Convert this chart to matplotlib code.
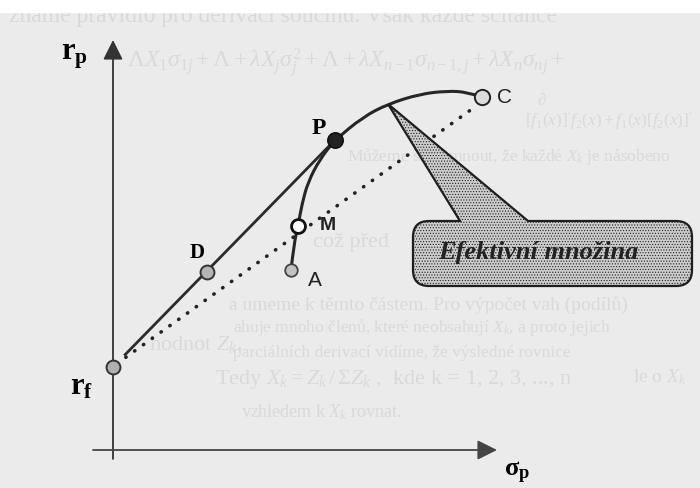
import matplotlib
matplotlib.use("Agg")
import matplotlib.pyplot as plt
from matplotlib.path import Path
from matplotlib.patches import PathPatch

plt.rcParams["mathtext.fontset"] = "custom"
plt.rcParams["mathtext.rm"] = "Liberation Serif"
plt.rcParams["mathtext.it"] = "Liberation Serif:italic"
plt.rcParams["mathtext.bf"] = "Liberation Serif:bold"
plt.rcParams["hatch.color"] = "#ababab"
plt.rcParams["hatch.linewidth"] = 0.5

SERIF = "Liberation Serif"
SANS = "Liberation Sans"

# portfolio points (sigma_p, r_p)
RF = (0.0, 2.08)
POINT_D = (2.35, 4.45)
POINT_P = (5.55, 7.75)
POINT_M = (4.625, 5.6)
POINT_A = (4.45, 4.5)
POINT_C = (9.225, 8.825)

# efficient frontier from A up to C
frontier_sigma = [4.45, 4.525, 4.625, 4.725, 4.875, 5.175, 5.55, 6.25, 6.875, 7.675, 8.35, 8.85, 9.225]
frontier_r = [4.5, 5.15, 5.6, 6.15, 6.7, 7.275, 7.75, 8.325, 8.65, 8.9, 8.975, 8.95, 8.825]

# capital market line rf -> P and the dotted line rf -> C
cml_sigma = [0.28, 5.55]
cml_r = [2.36, 7.75]
dot_sigma = [0.1, 8.975]
dot_r = [2.16, 8.525]

# callout box and pointer
box_left, box_right, box_top, box_bottom = 7.5, 14.475, 5.725, 4.1
box_round = 0.4
pointer_tip = (6.875, 8.65)
pointer_base = (8.675, 10.375)

# faded page text behind the figure: (sigma, r, text, size)
page_text = [
    (-2.6, 10.85, "zname pravidlo pro derivaci součinu. Však každé sčítance", 17),
    (0.35, 9.7, r"$\Lambda X_1\sigma_{1j} + \Lambda + \lambda X_j\sigma_j^2 + \Lambda + \lambda X_{n-1}\sigma_{n-1,j} + \lambda X_n\sigma_{nj} +$", 17),
    (10.6, 8.75, r"$\partial$", 12),
    (10.3, 8.25, r"$[f_1(x)]' f_2(x) + f_1(x)[f_2(x)]'$", 12.5),
    (5.85, 7.35, r"Můžeme si všimnout, že každé $X_k$ je násobeno", 12.5),
    (5.0, 5.2, "což před", 16),
    (2.9, 3.66, "a umeme k těmto částem. Pro výpočet vah (podílů)", 14),
    (3.0, 3.08, r"ahuje mnoho členů, které neobsahují $X_k$, a proto jejich", 12.5),
    (0.9, 2.65, r"hodnot $Z_k$.", 16),
    (3.0, 2.45, "parciálních derivací vidíme, že výsledné rovnice", 12.5),
    (2.55, 1.78, r"Tedy $X_k = Z_k\,/\,\Sigma Z_k$ ,  kde k = 1, 2, 3, ..., n", 16),
    (13.0, 1.85, r"le o $X_k$", 14),
    (3.2, 0.98, r"vzhledem k $X_k$ rovnat.", 13),
]

fig = plt.figure(figsize=(7, 4.89), dpi=100)
fig.patch.set_facecolor("#ebebeb")
ax = fig.add_axes([0, 0, 1, 1])
ax.set_xlim(-2.825, 14.675)
ax.set_ylim(-0.95, 11.275)
ax.axis("off")

for x, y, s, size in page_text:
    ax.text(x, y, s, fontsize=size, family=SERIF, color="#d9d9d9",
            ha="left", va="center", zorder=0.5)
ax.axhspan(10.95, 11.4, color="white", zorder=1)

# axes with arrow heads
arrow = dict(arrowstyle="-|>,head_length=0.6,head_width=0.3", mutation_scale=20,
             color="#333333", lw=1.3, shrinkA=0, shrinkB=0)
ax.annotate("", xy=(0, 10.25), xytext=(0, -0.225), arrowprops=arrow, zorder=2)
ax.annotate("", xy=(9.6, 0), xytext=(-0.5, 0), arrowprops=dict(arrow, color="#444444"), zorder=2)

ax.text(-0.62, 9.85, r"$\mathbf{r}_\mathbf{p}$", fontsize=22, ha="right", va="center", zorder=3)
ax.text(-0.5, 1.6, r"$\mathbf{r}_\mathbf{f}$", fontsize=22, ha="right", va="center", zorder=3)
ax.text(10.1, -0.55, r"$\mathbf{\sigma}_\mathbf{p}$", fontsize=19, ha="center", va="center", zorder=3)

# lines
ax.plot(cml_sigma, cml_r, color="#2b2b2b", lw=2.0, solid_capstyle="butt", zorder=3)
ax.plot(dot_sigma, dot_r, color="#222222", lw=2.6, linestyle=(0, (0.1, 2.9)),
        dash_capstyle="round", zorder=3)

# frontier drawn as a smooth quadratic path through the read points
pts = list(zip(frontier_sigma, frontier_r))
verts = [pts[0]]
codes = [Path.MOVETO]
for i in range(1, len(pts) - 1):
    end = pts[-1] if i == len(pts) - 2 else ((pts[i][0] + pts[i + 1][0]) / 2, (pts[i][1] + pts[i + 1][1]) / 2)
    verts += [pts[i], end]
    codes += [Path.CURVE3, Path.CURVE3]
ax.add_patch(PathPatch(Path(verts, codes), fill=False, edgecolor="#262626", lw=2.2,
                       capstyle="round", zorder=3))

# callout with pointer
L, R, T, B, rr = box_left, box_right, box_top, box_bottom, box_round
callout = [
    ((L + rr, T), Path.MOVETO),
    ((pointer_base[0], T), Path.LINETO),
    (pointer_tip, Path.LINETO),
    ((pointer_base[1], T), Path.LINETO),
    ((R - rr, T), Path.LINETO),
    ((R, T), Path.CURVE3), ((R, T - rr), Path.CURVE3),
    ((R, B + rr), Path.LINETO),
    ((R, B), Path.CURVE3), ((R - rr, B), Path.CURVE3),
    ((L + rr, B), Path.LINETO),
    ((L, B), Path.CURVE3), ((L, B + rr), Path.CURVE3),
    ((L, T - rr), Path.LINETO),
    ((L, T), Path.CURVE3), ((L + rr, T), Path.CURVE3),
    ((L + rr, T), Path.CLOSEPOLY),
]
ax.add_patch(PathPatch(Path([v for v, c in callout], [c for v, c in callout]),
                       facecolor="#cdcdcd", edgecolor="#1e1e1e", lw=1.6,
                       hatch="......", joinstyle="miter", zorder=4))
ax.text((L + R) / 2 - 0.35, 4.95, "Efektivní množina", fontsize=19, family=SERIF,
        style="italic", weight="bold", color="#222222", ha="center", va="center", zorder=5)

# portfolio markers
ax.plot(*RF, "o", ms=10, mfc="#b0b0b0", mec="#333333", mew=1.4, zorder=5)
ax.plot(*POINT_D, "o", ms=10, mfc="#b5b5b5", mec="#333333", mew=1.4, zorder=5)
ax.plot(*POINT_A, "o", ms=9, mfc="#c2c2c2", mec="#444444", mew=1.3, zorder=5)
ax.plot(*POINT_M, "o", ms=10, mfc="white", mec="#111111", mew=2.0, zorder=5)
ax.plot(*POINT_P, "o", ms=11, mfc="#222222", mec="#111111", mew=1.2, zorder=5)
ax.plot(*POINT_C, "o", ms=11, mfc="#dcdcdc", mec="#222222", mew=1.4, zorder=5)

ax.text(2.1, 4.95, "D", fontsize=15, family=SERIF, weight="bold", ha="center", va="center", zorder=5)
ax.text(5.15, 8.07, "P", fontsize=17, family=SERIF, weight="bold", ha="center", va="center", zorder=5)
ax.text(5.38, 5.63, "M", fontsize=14, family=SANS, weight="bold", color="#222222", ha="center", va="center", zorder=5)
ax.text(5.05, 4.27, "A", fontsize=15, family=SANS, color="#222222", ha="center", va="center", zorder=5)
ax.text(9.8, 8.83, "C", fontsize=15, family=SANS, color="#222222", ha="center", va="center", zorder=5)

fig.savefig("out.png", dpi=100, facecolor=fig.get_facecolor())
